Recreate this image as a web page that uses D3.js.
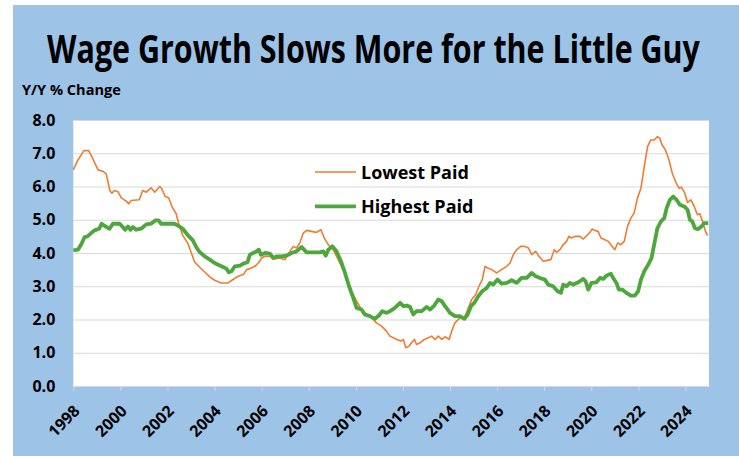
<!DOCTYPE html>
<meta charset="utf-8">
<head lang="en">
    <title>Wage Growth</title>
    <script src="https://cdn.jsdelivr.net/npm/d3@7/dist/d3.min.js"></script>
    <style type="text/css">
        body { margin: 0; background: #fff; }
        .grid line { stroke: #d9d9d9; stroke-width: 1; }
        .grid .domain { display: none; }
        .axis text, .grid text { font-family: "Open Sans", sans-serif; font-weight: bold; fill: #000; }
        .lowline { fill: none; stroke: #ed7d31; stroke-width: 1.6; stroke-linejoin: round; }
        .highline { fill: none; stroke: #4ea73c; stroke-width: 3.8; stroke-linejoin: round; }
    </style>
</head>
<body>
<script type="text/javascript">

    // lowest paid workers, y/y % change (year, value)
    var lowestPaid = [
        [1998.0, 6.5], [1998.2, 6.8], [1998.45, 7.08], [1998.65, 7.08], [1998.8, 6.88],
        [1999.05, 6.5], [1999.25, 6.46], [1999.4, 6.38], [1999.55, 5.88], [1999.64, 5.8],
        [1999.75, 5.88], [1999.9, 5.84], [2000.04, 5.66], [2000.25, 5.56], [2000.35, 5.48],
        [2000.46, 5.58], [2000.8, 5.6], [2000.95, 5.88], [2001.1, 5.83], [2001.3, 5.96],
        [2001.46, 5.83], [2001.67, 6.0], [2001.76, 5.93], [2001.9, 5.7], [2002.05, 5.66],
        [2002.2, 5.38], [2002.37, 5.18], [2002.48, 4.88], [2002.65, 4.53], [2002.87, 4.28],
        [2003.0, 4.03], [2003.15, 3.73], [2003.36, 3.58], [2003.58, 3.43], [2003.8, 3.28],
        [2004.0, 3.18], [2004.28, 3.1], [2004.57, 3.1], [2004.74, 3.18], [2005.0, 3.3],
        [2005.22, 3.35], [2005.36, 3.5], [2005.57, 3.55], [2005.71, 3.6], [2005.86, 3.7],
        [2006.0, 3.85], [2006.14, 3.9], [2006.42, 3.9], [2006.56, 3.82], [2006.78, 3.85],
        [2006.99, 3.8], [2007.2, 4.05], [2007.34, 4.2], [2007.48, 4.15], [2007.62, 4.3],
        [2007.77, 4.6], [2007.91, 4.68], [2008.12, 4.65], [2008.33, 4.62], [2008.52, 4.7],
        [2008.66, 4.45], [2008.83, 4.25], [2009.04, 4.1], [2009.25, 3.8], [2009.46, 3.5],
        [2009.65, 3.2], [2009.82, 2.85], [2010.03, 2.55], [2010.24, 2.3], [2010.46, 2.15],
        [2010.67, 2.05], [2010.88, 1.9], [2011.09, 1.8], [2011.3, 1.65], [2011.45, 1.5],
        [2011.6, 1.45], [2011.74, 1.4], [2011.92, 1.35], [2012.02, 1.4], [2012.12, 1.15],
        [2012.26, 1.2], [2012.37, 1.3], [2012.49, 1.4], [2012.58, 1.25], [2012.73, 1.3],
        [2012.91, 1.4], [2013.08, 1.45], [2013.22, 1.5], [2013.36, 1.4], [2013.5, 1.5],
        [2013.65, 1.4], [2013.79, 1.48], [2013.96, 1.4], [2014.07, 1.65], [2014.21, 1.9],
        [2014.42, 2.05], [2014.61, 2.05], [2014.78, 2.35], [2014.92, 2.6], [2015.09, 2.75],
        [2015.23, 3.0], [2015.37, 3.2], [2015.49, 3.6], [2015.6, 3.55], [2015.77, 3.5],
        [2015.98, 3.4], [2016.19, 3.5], [2016.41, 3.6], [2016.55, 3.7], [2016.69, 3.95],
        [2016.83, 4.1], [2017.01, 4.2], [2017.18, 4.2], [2017.33, 4.15], [2017.47, 3.95],
        [2017.64, 4.05], [2017.78, 3.9], [2017.96, 3.75], [2018.28, 3.8], [2018.43, 4.1],
        [2018.53, 4.02], [2018.67, 4.1], [2018.81, 4.25], [2018.95, 4.35], [2019.05, 4.5],
        [2019.16, 4.45], [2019.3, 4.5], [2019.52, 4.5], [2019.66, 4.42], [2019.8, 4.52],
        [2019.94, 4.62], [2020.04, 4.72], [2020.15, 4.68], [2020.29, 4.65], [2020.41, 4.45],
        [2020.58, 4.4], [2020.72, 4.35], [2020.83, 4.25], [2021.0, 4.1], [2021.12, 4.3],
        [2021.26, 4.25], [2021.4, 4.35], [2021.54, 4.8], [2021.68, 5.05], [2021.82, 5.2],
        [2021.96, 5.65], [2022.11, 5.95], [2022.25, 6.6], [2022.39, 7.2], [2022.53, 7.4],
        [2022.67, 7.4], [2022.81, 7.5], [2022.91, 7.45], [2023.01, 7.25], [2023.15, 7.1],
        [2023.3, 6.8], [2023.44, 6.4], [2023.58, 6.15], [2023.72, 5.95], [2023.83, 5.98],
        [2023.97, 5.8], [2024.09, 5.52], [2024.23, 5.6], [2024.37, 5.4], [2024.51, 5.15],
        [2024.61, 5.18], [2024.75, 4.9], [2024.85, 4.65], [2024.94, 4.52]
    ];

    // highest paid workers, y/y % change (year, value)
    var highestPaid = [
        [1998.0, 4.08], [1998.2, 4.1], [1998.35, 4.28], [1998.48, 4.48], [1998.6, 4.5],
        [1998.76, 4.6], [1998.9, 4.68], [1999.1, 4.73], [1999.2, 4.88], [1999.36, 4.8],
        [1999.54, 4.73], [1999.68, 4.88], [1999.97, 4.88], [2000.1, 4.78], [2000.2, 4.7],
        [2000.32, 4.8], [2000.43, 4.7], [2000.53, 4.78], [2000.67, 4.7], [2000.88, 4.73],
        [2001.1, 4.86], [2001.3, 4.88], [2001.48, 4.98], [2001.62, 4.98], [2001.73, 4.88],
        [2002.3, 4.88], [2002.5, 4.8], [2002.65, 4.73], [2002.87, 4.53], [2003.08, 4.38],
        [2003.22, 4.18], [2003.36, 4.03], [2003.58, 3.9], [2003.8, 3.8], [2004.0, 3.7],
        [2004.2, 3.63], [2004.36, 3.58], [2004.5, 3.53], [2004.61, 3.42], [2004.72, 3.45],
        [2004.86, 3.6], [2005.08, 3.62], [2005.22, 3.68], [2005.4, 3.72], [2005.5, 3.95],
        [2005.64, 4.0], [2005.78, 4.05], [2005.88, 4.1], [2005.97, 3.95], [2006.14, 4.0],
        [2006.35, 3.98], [2006.49, 3.85], [2006.63, 3.9], [2006.85, 3.9], [2007.06, 3.92],
        [2007.27, 4.0], [2007.48, 4.05], [2007.7, 4.18], [2007.91, 4.02], [2008.19, 4.02],
        [2008.47, 4.02], [2008.62, 4.05], [2008.72, 3.92], [2008.83, 4.1], [2009.0, 4.2],
        [2009.18, 4.05], [2009.37, 3.75], [2009.54, 3.4], [2009.71, 3.0], [2009.89, 2.65],
        [2010.03, 2.35], [2010.24, 2.3], [2010.38, 2.15], [2010.6, 2.1], [2010.81, 2.02],
        [2010.98, 2.12], [2011.12, 2.25], [2011.3, 2.2], [2011.45, 2.25], [2011.66, 2.35],
        [2011.88, 2.5], [2012.02, 2.4], [2012.16, 2.42], [2012.3, 2.38], [2012.44, 2.15],
        [2012.58, 2.25], [2012.8, 2.25], [2013.01, 2.38], [2013.15, 2.3], [2013.33, 2.42],
        [2013.5, 2.6], [2013.65, 2.55], [2013.79, 2.4], [2014.0, 2.2], [2014.21, 2.1],
        [2014.42, 2.1], [2014.61, 2.02], [2014.75, 2.15], [2014.89, 2.4], [2015.03, 2.5],
        [2015.2, 2.7], [2015.37, 2.85], [2015.56, 2.95], [2015.7, 3.1], [2015.84, 3.05],
        [2016.02, 3.2], [2016.19, 3.08], [2016.41, 3.1], [2016.62, 3.18], [2016.83, 3.1],
        [2017.04, 3.25], [2017.26, 3.25], [2017.47, 3.4], [2017.64, 3.3], [2017.82, 3.25],
        [2018.03, 3.2], [2018.17, 3.05], [2018.38, 3.0], [2018.57, 2.85], [2018.71, 2.8],
        [2018.81, 3.05], [2018.95, 3.0], [2019.09, 3.1], [2019.23, 3.05], [2019.45, 3.12],
        [2019.66, 3.22], [2019.76, 3.15], [2019.87, 2.9], [2020.01, 3.1], [2020.22, 3.12],
        [2020.37, 3.25], [2020.51, 3.22], [2020.65, 3.32], [2020.83, 3.38], [2020.93, 3.25],
        [2021.07, 3.1], [2021.17, 2.9], [2021.31, 2.9], [2021.5, 2.8], [2021.68, 2.72],
        [2021.85, 2.72], [2021.99, 2.85], [2022.11, 3.2], [2022.25, 3.45], [2022.42, 3.65],
        [2022.56, 3.85], [2022.67, 4.25], [2022.81, 4.75], [2022.96, 4.95], [2023.1, 5.05],
        [2023.2, 5.35], [2023.34, 5.6], [2023.48, 5.7], [2023.62, 5.6], [2023.76, 5.45],
        [2023.95, 5.4], [2024.09, 5.3], [2024.19, 5.0], [2024.29, 4.95], [2024.4, 4.75],
        [2024.54, 4.72], [2024.68, 4.8], [2024.8, 4.9], [2024.97, 4.9]
    ];

    var yearTicks = [1998, 2000, 2002, 2004, 2006, 2008, 2010, 2012, 2014, 2016, 2018, 2020, 2022, 2024];
    var valueTicks = [0, 1, 2, 3, 4, 5, 6, 7, 8];
    var seriesNames = ["Lowest Paid", "Highest Paid"];

    var width = 739;
    var height = 456;
    var plot = { left: 73.3, right: 709, top: 120, bottom: 386 };

    var svg = d3.select("body")
        .append("svg")
        .attr("width", width)
        .attr("height", height);

    // blue backdrop
    svg.append("rect")
        .attr("x", 13)
        .attr("y", 5)
        .attr("width", width - 13)
        .attr("height", height - 5)
        .attr("fill", "#9dc3e6");

    // white plot area
    svg.append("rect")
        .attr("x", plot.left)
        .attr("y", plot.top)
        .attr("width", plot.right - plot.left)
        .attr("height", plot.bottom - plot.top)
        .attr("fill", "#fff");

    var xScale = d3.scaleLinear()
        .domain([1998, 2025])
        .range([plot.left, plot.right]);
    var yScale = d3.scaleLinear()
        .domain([0, 8])
        .range([plot.bottom, plot.top]);

    // horizontal gridlines + y labels
    var yAxis = d3.axisLeft(yScale)
        .tickValues(valueTicks)
        .tickFormat(d3.format(".1f"))
        .tickSize(-(plot.right - plot.left))
        .tickPadding(18);
    svg.append("g")
        .attr("class", "grid")
        .attr("transform", "translate(" + plot.left + ",0)")
        .call(yAxis)
        .selectAll("text")
        .attr("font-size", "16px");

    // x axis with small tick marks below
    var xAxis = d3.axisBottom(xScale)
        .tickValues(yearTicks)
        .tickFormat(d3.format("d"))
        .tickSize(5)
        .tickSizeOuter(0);
    var gx = svg.append("g")
        .attr("class", "axis")
        .attr("transform", "translate(0," + plot.bottom + ")")
        .call(xAxis);
    gx.select(".domain").attr("stroke", "#d9d9d9");
    gx.selectAll(".tick line").attr("stroke", "#d9d9d9");
    gx.selectAll("text")
        .attr("font-size", "16px")
        .attr("text-anchor", "end")
        .attr("dy", 0)
        .attr("y", 0)
        .attr("transform", "translate(7,26) rotate(-45)");

    // series lines
    var line = d3.line()
        .x(function (d) { return xScale(d[0]); })
        .y(function (d) { return yScale(d[1]); });

    svg.append("path")
        .datum(lowestPaid)
        .attr("class", "lowline")
        .attr("d", line);
    svg.append("path")
        .datum(highestPaid)
        .attr("class", "highline")
        .attr("d", line);

    // legend
    var legendClasses = ["lowline", "highline"];
    var legend = svg.selectAll(".legend")
        .data(seriesNames)
        .enter()
        .append("g")
        .attr("class", "legend")
        .attr("transform", function (d, i) {
            return "translate(315," + (172 + i * 34.3) + ")";
        });
    legend.append("line")
        .attr("class", function (d, i) { return legendClasses[i]; })
        .attr("x1", 0)
        .attr("x2", 41)
        .attr("y1", 0)
        .attr("y2", 0);
    legend.append("text")
        .attr("x", 46)
        .attr("y", 6.5)
        .attr("font-family", "'Open Sans', sans-serif")
        .attr("font-weight", "bold")
        .attr("font-size", "18px")
        .text(function (d) { return d; });

    // squeeze a text horizontally to a target width (stand-in for a condensed face)
    function fitText(sel, cx, cy, target, anchor) {
        var t = sel.append("text")
            .attr("text-anchor", anchor)
            .attr("font-family", "'Open Sans', sans-serif")
            .attr("font-weight", "bold");
        return function (size, label) {
            t.attr("font-size", size + "px").text(label);
            var k = target / t.node().getComputedTextLength();
            t.attr("transform", "translate(" + cx + "," + cy + ") scale(" + k + ",1)");
            return t;
        };
    }

    // title
    fitText(svg, 373.5, 63, 653, "middle")(40, "Wage Growth Slows More for the Little Guy");

    // y axis caption
    fitText(svg, 22, 95, 99, "start")(14, "Y/Y % Change");

</script>
</body>
